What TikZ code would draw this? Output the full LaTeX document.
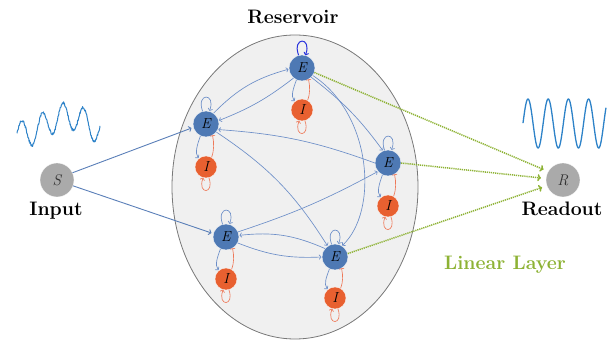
\documentclass[tikz,border=0pt]{standalone}
\usetikzlibrary{arrows.meta}
\definecolor{ecol}{RGB}{78,121,180}
\definecolor{icol}{RGB}{232,96,48}
\definecolor{scol}{RGB}{170,170,170}
\definecolor{bcol}{RGB}{108,142,200}
\definecolor{incol}{RGB}{90,127,184}
\definecolor{ocol}{RGB}{238,120,88}
\definecolor{lincol}{RGB}{141,178,52}
\definecolor{wavecol}{RGB}{45,130,200}
\definecolor{resfill}{RGB}{240,240,240}
\definecolor{resline}{RGB}{120,120,120}
\definecolor{selfcol}{RGB}{40,50,220}
\tikzset{
  enode/.style={circle, fill=ecol, draw=white, line width=0.3pt, minimum size=26pt, inner sep=0pt, font=\fontsize{14.5}{14.5}\selectfont\itshape},
  inode/.style={circle, fill=icol, draw=white, line width=0.3pt, minimum size=22pt, inner sep=0pt, font=\fontsize{14.5}{14.5}\selectfont\itshape},
  snode/.style={circle, fill=scol, draw=white, line width=0.3pt, minimum size=34pt, inner sep=0pt, font=\fontsize{15.5}{15.5}\selectfont\itshape, text=black!80},
  conn/.style={draw=bcol, line width=0.65pt, -{To[length=2.5pt,width=5pt]}, shorten >=0.5pt},
  inconn/.style={draw=incol, line width=0.9pt, -{To[length=3pt,width=6pt]}, shorten >=2pt},
  selfconn/.style={draw=selfcol, line width=1pt, -{To[length=3pt,width=5.5pt]}},
  inh/.style={draw=ocol, line width=0.65pt, -{Bar[width=5pt]}},
  iself/.style={draw=ocol, line width=0.65pt, -{To[length=2.5pt,width=5pt]}},
  lin/.style={draw=lincol, line width=1.5pt, dash pattern=on 1.2pt off 0.9pt, -{To[length=3.5pt,width=7pt]}, shorten >=5pt},
  lbl/.style={font=\fontsize{19.5}{22}\selectfont\bfseries, anchor=base},
}
\begin{document}
\begin{tikzpicture}[x=1pt,y=1pt]
\useasboundingbox (0,0) rectangle (611,-344);
% reservoir
\draw[fill=resfill, draw=resline, line width=0.8pt] (295,-187) ellipse [x radius=123, y radius=152];
% waves
\pgfmathsetseed{7}
\draw[wavecol, line width=1pt, line join=round] plot[domain=17:100, samples=220, smooth]
  (\x, {-(125 - 9*cos(4*(\x-67)) - 13.5*sin(17.561*(\x-17) + 2) + 1.3*rand)});
\draw[wavecol, line width=1.3pt] plot[domain=523:606, samples=200, smooth]
  (\x, {-(123.5 - 24.5*cos(17.822*(\x-528)))});
% nodes
\node[enode] (E1) at (302,-68) {E};
\node[inode] (I1) at (302,-110) {I};
\node[enode] (E2) at (206,-124) {E};
\node[inode] (I2) at (206,-167) {I};
\node[enode] (E3) at (388,-163) {E};
\node[inode] (I3) at (388,-206) {I};
\node[enode] (E4) at (226,-237) {E};
\node[inode] (I4) at (226,-279) {I};
\node[enode] (E5) at (335,-257) {E};
\node[inode] (I5) at (335,-298) {I};
\node[snode] (S) at (57,-180) {S};
\node[snode] (R) at (563,-180) {R};
% labels
\node[lbl] (reslbl) at (293,-24) {Reservoir};
\node[lbl] (inlbl) at (56,-216) {Input};
\node[lbl] (outlbl) at (562,-216) {Readout};
\node[lbl, text=lincol] (linlbl) at (505,-270) {Linear Layer};
% input connections
\draw[inconn] (S.25) -- (E2.195);
\draw[inconn] (S.-20) -- (E4.165);
% local E-I motifs
\draw[selfconn] (E1.105) .. controls +(110:20) and +(70:20) .. (E1.75);
\foreach \k in {2,...,5}{
  \draw[conn] (E\k.105) .. controls +(110:20) and +(70:20) .. (E\k.75);
}
\foreach \k in {1,...,5}{
  \draw[conn] (E\k.245) .. controls +(250:8) and +(130:7) .. (I\k.130);
  \draw[inh] (I\k.60) .. controls +(70:8) and +(-80:8) .. (E\k.-60);
  \draw[iself] (I\k.-75) .. controls +(-70:18) and +(-110:18) .. (I\k.-105);
}
% recurrent connections
\draw[conn] (E2.55) to[bend left=15] (E1.185);
\draw[conn] (E1.230) to[bend left=8] (E2.15);
\draw[conn] (E1.-45) to[bend left=8] (E3.112);
\draw[conn] (E1.-35) .. controls +(59,-38) and +(37,35) .. (E5.58);
\draw[conn] (E3.180) to[bend right=8] (E2.-25);
\draw[conn] (E2.-38) to[bend left=12] (E5.124);
\draw[conn] (E4.23) to[bend right=5] (E3.220);
\draw[conn] (E5.140) to[bend right=15] (E4.7);
\draw[conn] (E4.-27) to[bend right=12] (E5.180);
% linear readout
\draw[lin] (E1.-20) -- (R.150);
\draw[lin] (E3.0) -- (R.175);
\draw[lin] (E5.15) -- (R.200);
\end{tikzpicture}
\end{document}
